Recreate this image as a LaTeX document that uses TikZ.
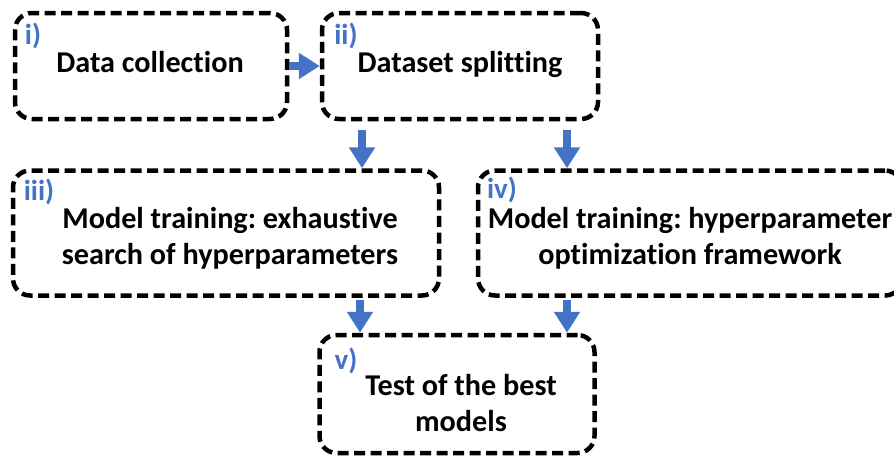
\documentclass[tikz,border=0pt]{standalone}
\usepackage{fontspec}
\setmainfont{Carlito}[Ligatures=NoCommon]
\frenchspacing
\usetikzlibrary{arrows.meta}
\definecolor{flowblue}{HTML}{4472C4}
\begin{document}
\begin{tikzpicture}[x=1pt,y=-1pt,
  box/.style={draw=black, line width=4.5pt, dash pattern=on 11pt off 5.5pt,
    rounded corners=17pt, inner sep=0pt},
  txt/.style={inner sep=0pt, align=center, text=black,
    font=\bfseries\fontsize{30.2}{36}\selectfont\frenchspacing},
  lab/.style={inner sep=0pt, text=flowblue,
    font=\bfseries\fontsize{29}{30}\selectfont},
  flow/.style={draw=flowblue, line width=7.5pt,
    -{Triangle[length=21pt,width=25pt]}}]
\useasboundingbox (0,0) rectangle (894,456);
\clip (0,0) rectangle (894,456);
% boxes
\node[box, minimum width=272pt, minimum height=106pt] (i)   at (151,66)  {};
\node[box, minimum width=276pt, minimum height=106pt] (ii)  at (460,66)  {};
\node[box, minimum width=426pt, minimum height=125pt] (iii) at (226,233) {};
\node[box, minimum width=424pt, minimum height=125pt] (iv)  at (690,233) {};
\node[box, minimum width=275pt, minimum height=118pt] (v)   at (457,394) {};
% texts
\node[txt, anchor=base] (ti)   at (150,72)  {Data collection};
\node[txt, anchor=base] (tii)  at (460,72)  {Dataset splitting};
\node[txt] (tiii) at (230,238) {Model training: exhaustive\\search of hyperparameters};
\node[txt] (tiv)  at (690,238) {Model training: hyperparameter\\optimization framework};
\node[txt] (tv)   at (461,403) {Test of the best\\models};
% labels
\node[lab] (li)   at (33,36)  {i)};
\node[lab] (lii)  at (346,36) {ii)};
\node[lab] (liii) at (39,192) {iii)};
\node[lab] (liv)  at (502,190) {iv)};
\node[lab] (lv)   at (346,361) {v)};
% connector columns
\coordinate (ca) at (362,0);
\coordinate (cb) at (567,0);
\coordinate (cc) at (360,0);
\coordinate (cd) at (567,0);
% connectors
\draw[flow] (i.east) -- (ii.west);
\draw[flow, shorten <=9pt] (ii.south -| ca) -- (iii.north -| ca);
\draw[flow, shorten <=9pt] (ii.south -| cb) -- (iv.north -| cb);
\draw[flow, shorten <=2pt] (iii.south -| cc) -- (v.north -| cc);
\draw[flow, shorten <=2pt] (iv.south -| cd) -- (v.north -| cd);
\end{tikzpicture}
\end{document}
